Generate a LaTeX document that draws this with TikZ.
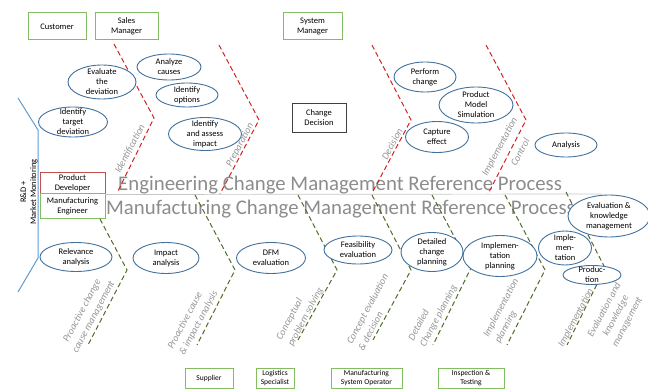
\documentclass[tikz,border=0pt]{standalone}
\usepackage{fontspec}
\setmainfont{Carlito}
\usetikzlibrary{shapes.geometric}

\definecolor{ellblue}{RGB}{65,113,156}
\definecolor{spineblue}{RGB}{91,155,213}
\definecolor{boxgreen}{RGB}{130,190,95}
\definecolor{boxred}{RGB}{192,80,77}
\definecolor{chevred}{RGB}{210,35,35}
\definecolor{chevgreen}{RGB}{80,110,40}
\definecolor{labgray}{RGB}{150,150,150}
\definecolor{titlegray}{RGB}{140,140,140}
\definecolor{decgray}{RGB}{64,64,64}

\newcommand\ellfont{\fontsize{8.5}{10}\selectfont}
\newcommand\boxfont{\fontsize{8.5}{10}\selectfont}
\newcommand\smallboxfont{\fontsize{7.5}{8.5}\selectfont}
\newcommand\phasefont{\fontsize{10}{13}\selectfont\itshape}
\newcommand\titlefont{\fontsize{20.8}{24}\selectfont}

% activity ellipse of fixed size with its text laid on top
\newcommand\actnode[5]{%
  \node[actell, minimum width=#3, minimum height=#4] (#1) at #2 {};
  \node[acttext] (#1-t) at (#1.center) {#5};}

\begin{document}
\begin{tikzpicture}[x=1pt,y=-1pt,
  actell/.style={ellipse, draw=ellblue, line width=0.9pt, fill=white, inner sep=0pt},
  acttext/.style={align=center, font=\ellfont, inner sep=0pt},
  rolebox/.style={rectangle, draw=boxgreen, line width=1pt, inner sep=0pt, align=center, font=\boxfont},
  smallrole/.style={rolebox, font=\smallboxfont},
  redchev/.style={draw=chevred, line width=1pt, dash pattern=on 5pt off 3pt},
  greenchev/.style={draw=chevgreen, line width=1pt, dash pattern=on 5pt off 3pt},
  phase/.style={text=labgray, font=\phasefont, align=center, inner sep=0pt, rotate=62},
  phaseleft/.style={phase, align=left},
  spine/.style={draw=spineblue, line width=1pt},
  bandline/.style={draw=gray!45, line width=0.7pt},
  title/.style={text=titlegray, font=\titlefont, inner sep=0pt, anchor=base west}
]
\useasboundingbox (0,0) rectangle (648,390);

% ---------- titles of the two reference processes ----------
\node[title] (engtitle) at (118,191) {Engineering Change Management Reference Process};
\node[title] (mfgtitle) at (106,215) {Manufacturing Change Management Reference Process};

% ---------- roles ----------
\node[rolebox, minimum width=58, minimum height=27] (customer) at (57,26.5) {Customer};
\node[rolebox, minimum width=63, minimum height=27] (sales) at (126.5,26.5) {Sales\\Manager};
\node[rolebox, minimum width=59, minimum height=27] (sysman) at (312.5,26.5) {System\\Manager};
\node[rolebox, draw=boxred, minimum width=65, minimum height=21] (pd) at (72.5,183.5) {Product\\Developer};
\node[rolebox, minimum width=65, minimum height=25] (me) at (72.5,206.5) {Manufacturing\\Engineer};
\node[rectangle, draw=decgray, line width=0.9pt, minimum width=54, minimum height=29, inner sep=0pt,
      align=center, font=\boxfont] (decision) at (319,117.5) {Change\\Decision};

\node[smallrole, minimum width=48, minimum height=20] (supplier) at (209,378) {Supplier};
\node[smallrole, minimum width=38, minimum height=20] (logist) at (275,378) {Logistics\\Specialist};
\node[smallrole, minimum width=71, minimum height=20] (operator) at (366.5,378) {Manufacturing\\System Operator};
\node[smallrole, minimum width=66, minimum height=20] (inspect) at (471,378) {Inspection \&\\Testing};

% ---------- left spine: R&D + market monitoring ----------
\coordinate (sp1) at (18,98);
\coordinate (sp2) at (38,130);
\coordinate (sp3) at (38,258);
\coordinate (sp4) at (18,292);
\draw[spine] (sp1) -- (sp2) -- (sp3) -- (sp4);
\node[rotate=90, align=center, font=\boxfont, inner sep=0pt] (rdmm) at (29,192) {R\&D +\\Market Monitoring};

% band between engineering and manufacturing
\coordinate (bandend) at (602,194);
\draw[bandline] (pd.south east) -- (bandend);

% ---------- engineering phase chevrons ----------
\coordinate (r1a) at (114,44);  \coordinate (r1b) at (154,118); \coordinate (r1c) at (117,193);
\coordinate (r2a) at (219,45);  \coordinate (r2b) at (259,120); \coordinate (r2c) at (220,194);
\coordinate (r3a) at (372,45);  \coordinate (r3b) at (411,120); \coordinate (r3c) at (372,193);
\coordinate (r4a) at (486,45);  \coordinate (r4b) at (526,120); \coordinate (r4c) at (488,194);
\draw[redchev] (r1a) -- (r1b) -- (r1c);
\draw[redchev] (r2a) -- (r2b) -- (r2c);
\draw[redchev] (r3a) -- (r3b) -- (r3c);
\draw[redchev] (r4a) -- (r4b) -- (r4c);

% ---------- manufacturing phase chevrons ----------
\coordinate (g1a) at (100,219); \coordinate (g1b) at (127,270); \coordinate (g1c) at (88,345);
\coordinate (g2a) at (195,195); \coordinate (g2b) at (235,270); \coordinate (g2c) at (197,345);
\coordinate (g3a) at (298,195); \coordinate (g3b) at (337,270); \coordinate (g3c) at (298,340);
\coordinate (g4a) at (372,195); \coordinate (g4b) at (411,270); \coordinate (g4c) at (373,340);
\coordinate (g5a) at (432,195); \coordinate (g5b) at (471,268); \coordinate (g5c) at (433,345);
\coordinate (g6a) at (505,195); \coordinate (g6b) at (545,270); \coordinate (g6c) at (507,345);
\coordinate (g7a) at (566,192); \coordinate (g7b) at (605,268); \coordinate (g7c) at (567,345);
\draw[greenchev] (g1a) -- (g1b) -- (g1c);
\draw[greenchev] (g2a) -- (g2b) -- (g2c);
\draw[greenchev] (g3a) -- (g3b) -- (g3c);
\draw[greenchev] (g4a) -- (g4b) -- (g4c);
\draw[greenchev] (g5a) -- (g5b) -- (g5c);
\draw[greenchev] (g6a) -- (g6b) -- (g6c);
\draw[greenchev] (g7a) -- (g7b) -- (g7c);

% ---------- phase names ----------
\node[phase] (ph-ident) at (130,149) {Identification};
\node[phase] (ph-prep)  at (240,145) {Preparation};
\node[phase] (ph-dec)   at (392,144) {Decision};
\node[phase] (ph-impl)  at (500,147) {Implementation};
\node[phase] (ph-ctrl)  at (520,152) {Control};

\node[phase]     (ph-pccm) at (88,314)  {Proactive change\\cause management};
\node[phaseleft] (ph-pcia) at (193,320) {Proactive cause\\\& impact analysis};
\node[phaseleft] (ph-cps)  at (300,314) {Conceptual\\problem solving};
\node[phaseleft] (ph-ced)  at (373,312) {Concept evaluation\\\& decision};
\node[phaseleft] (ph-dcp)  at (433,313) {Detailed\\Change planning};
\node[phaseleft] (ph-ip)   at (507,311) {Implementation\\planning};
\node[phase]     (ph-im)   at (576,318) {Implementation};
\node[phase]     (ph-ekm)  at (616,316) {Evaluation and\\knowledge\\management};

% ---------- engineering activities ----------
\actnode{evaldev}{(102,82)}{68}{34}{Evaluate\\the\\deviation}
\actnode{target}{(73,122)}{69}{30}{Identify\\target\\deviation}
\actnode{causes}{(169,67)}{64}{26}{Analyze\\causes}
\actnode{options}{(187,95)}{62}{24}{Identify\\options}
\actnode{assess}{(205,134)}{73}{33}{Identify\\and assess\\impact}
\actnode{perform}{(425,77)}{62}{30}{Perform\\change}
\actnode{pms}{(476,105)}{74}{36}{Product\\Model\\Simulation}
\actnode{capture}{(437,137)}{63}{31}{Capture\\effect}
\actnode{analysis}{(566,145)}{62}{24}{Analysis}

% ---------- manufacturing activities ----------
\actnode{relev}{(76,257)}{72}{29}{Relevance\\analysis}
\actnode{impan}{(166,258)}{66}{31}{Impact\\analysis}
\actnode{dfm}{(271,258)}{69}{31}{DFM\\evaluation}
\actnode{feas}{(358,250)}{68}{28}{Feasibility\\evaluation}
\actnode{detail}{(432,252)}{62}{39}{Detailed\\change\\planning}
\actnode{implplan}{(500,256)}{74}{41}{Implemen-\\tation\\planning}
\actnode{evalk}{(609,216)}{82}{42}{Evaluation \&\\knowledge\\management}
\actnode{imple}{(565,248)}{53}{34}{Imple-\\men-\\tation}
\actnode{produc}{(592,275)}{58}{19}{Produc-\\tion}

\end{tikzpicture}
\end{document}
